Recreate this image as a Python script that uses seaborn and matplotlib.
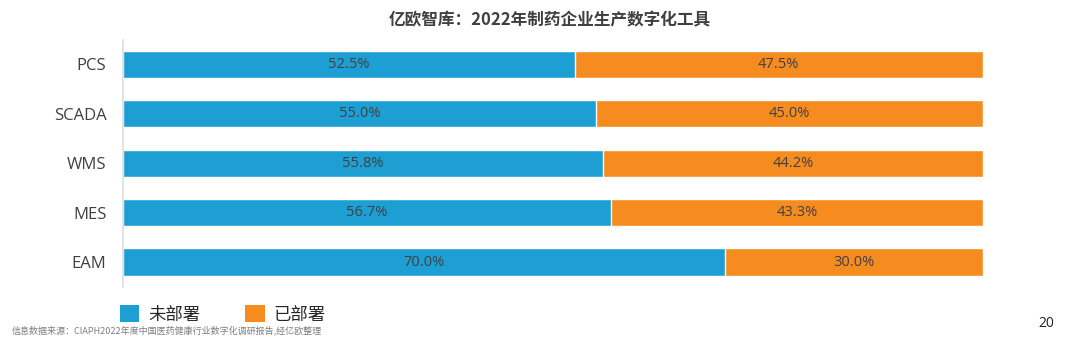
import matplotlib
matplotlib.use("Agg")
import matplotlib.pyplot as plt
import seaborn as sns
import pandas as pd
from matplotlib.patches import Patch

categories = ["PCS", "SCADA", "WMS", "MES", "EAM"]
not_deployed = [52.5, 55.0, 55.8, 56.7, 70.0]
deployed = [47.5, 45.0, 44.2, 43.3, 30.0]
series_names = ["未部署", "已部署"]
title = "亿欧智库：2022年制药企业生产数字化工具"
source = "信息数据来源：CIAPH2022年度中国医药健康行业数字化调研报告,经亿欧整理"
page_no = "20"

BLUE = "#1E9FD4"
ORANGE = "#F68B1F"
TEXT = "#404040"

sns.set_theme(style="white")
plt.rcParams["font.family"] = ["Open Sans", "Noto Sans CJK SC", "DejaVu Sans"]

df = pd.DataFrame({"cat": categories, "a": not_deployed, "b": deployed})
df["total"] = df["a"] + df["b"]

fig = plt.figure(figsize=(10.8, 3.37), dpi=100)
ax = fig.add_axes([0.1139, 0.149, 0.7963, 0.733])

sns.barplot(data=df, y="cat", x="total", color=ORANGE, orient="h",
            width=0.55, saturation=1, ax=ax, order=categories)
sns.barplot(data=df, y="cat", x="a", color=BLUE, orient="h",
            width=0.55, saturation=1, ax=ax, order=categories)

for i, (a, b) in enumerate(zip(not_deployed, deployed)):
    ax.text(a / 2, i, f"{a:.1f}%", ha="center", va="center", color=TEXT, fontsize=10.5)
    ax.text(a + b / 2, i, f"{b:.1f}%", ha="center", va="center", color=TEXT, fontsize=10.5)

ax.set_xlim(0, 100)
ax.set_ylim(4.5, -0.5)
ax.set_xlabel("")
ax.set_ylabel("")
ax.set_xticks([])
ax.tick_params(axis="y", length=0, pad=12, labelsize=12, labelcolor=TEXT)
for s in ["top", "right", "bottom"]:
    ax.spines[s].set_visible(False)
ax.spines["left"].set_color("#DDDDDD")
ax.spines["left"].set_linewidth(1.2)

fig.text(0.509, 0.94, title, ha="center", va="center", fontsize=12,
         fontweight="bold", color=TEXT,
         family=["Noto Sans CJK SC", "DejaVu Sans"])

handles = [Patch(facecolor=BLUE, edgecolor="none"), Patch(facecolor=ORANGE, edgecolor="none")]
fig.legend(handles, series_names, loc="center left", bbox_to_anchor=(0.097, 0.067),
           ncol=2, frameon=False, handlelength=1.1, handleheight=1.1,
           handletextpad=0.5, columnspacing=2.6,
           prop={"family": ["Noto Sans CJK SC", "DejaVu Sans"], "size": 12.5})

fig.text(0.011, 0.02, source, ha="left", va="center", fontsize=6.5, color="#7F7F7F",
         family=["Noto Sans CJK SC", "DejaVu Sans"])
fig.text(0.969, 0.04, page_no, ha="center", va="center", fontsize=10, color="#222222")

fig.savefig("out.png", dpi=100)
